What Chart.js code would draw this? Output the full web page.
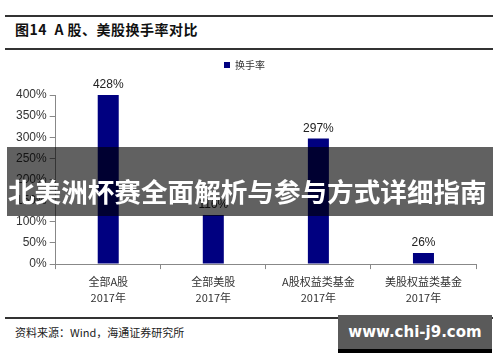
<!DOCTYPE html>
<html>
<head>
<meta charset="utf-8">
<script src="https://cdn.jsdelivr.net/npm/chart.js@4/dist/chart.umd.min.js"></script>
<style>
  body { margin: 0; background: #fff; }
  #wrap { position: relative; width: 500px; height: 362px; overflow: hidden; background: #fff; font-family: "Noto Sans CJK SC", sans-serif; }
  .rule { position: absolute; left: 5px; width: 488px; background: #333; }
  #title { position: absolute; left: 15px; top: 19px; font-size: 14px; font-weight: bold; color: #111; letter-spacing: 0.5px; }
  #source { position: absolute; left: 15px; top: 324px; font-size: 11px; color: #222; }
  #chartBox { position: absolute; left: 0; top: 52px; width: 500px; height: 259px; }
  #banner { position: absolute; left: 7px; top: 147px; width: 486px; height: 69px; background: rgba(0,0,0,0.62); color: #fff; font-size: 26.6px; font-weight: bold; line-height: 51px; padding-top: 18px; padding-left: 1px; white-space: nowrap; overflow: hidden; box-sizing: border-box; }
  #site { position: absolute; left: 338px; top: 315px; width: 154px; height: 38px; background: #5a5a5a; border-bottom: 4px solid #000; box-sizing: border-box; color: #fff; font-size: 15px; font-weight: bold; text-align: center; line-height: 34px; font-family: "DejaVu Sans", sans-serif; }
</style>
</head>
<body>
<div id="wrap">
  <div class="rule" style="top:15px;height:2px"></div>
  <div id="title">图14&nbsp; A 股、美股换手率对比</div>
  <div class="rule" style="top:48px;height:2px"></div>
  <div id="chartBox"><canvas id="turnoverChart"></canvas></div>
  <div class="rule" style="top:317px;height:2px"></div>
  <div id="source">资料来源：Wind，海通证券研究所</div>
  <div id="banner">北美洲杯赛全面解析与参与方式详细指南</div>
  <div id="site">www.chi-j9.com</div>
</div>
<script>
var categories = [
	['全部A股', '2017年'],
	['全部美股', '2017年'],
	['A股权益类基金', '2017年'],
	['美股权益类基金', '2017年']
];
var turnover = [428, 116, 297, 26];
var seriesName = '换手率';
var yTicks = [0, 50, 100, 150, 200, 250, 300, 350, 400];

// value labels above the bars
var barLabels = {
	id: 'barLabels',
	afterDatasetsDraw: function(chart) {
		var ctx = chart.ctx;
		var meta = chart.getDatasetMeta(0);
		ctx.save();
		ctx.font = '12px "Liberation Sans", Arial, sans-serif';
		ctx.fillStyle = '#222';
		ctx.textAlign = 'center';
		ctx.textBaseline = 'bottom';
		meta.data.forEach(function(bar, i) {
			var y = Math.max(bar.y, chart.chartArea.top);
			ctx.fillText(turnover[i] + '%', bar.x, y - 4);
		});
		ctx.restore();
	}
};

// extra room under the legend so the 428% label fits above the plot
var legendGap = {
	id: 'legendGap',
	afterInit: function(chart) {
		var fit = chart.legend.fit;
		chart.legend.fit = function() {
			fit.call(this);
			this.height += 15;
		};
	}
};

new Chart(document.getElementById('turnoverChart'), {
	type: 'bar',
	data: {
		labels: categories,
		datasets: [{
			label: seriesName,
			data: turnover,
			backgroundColor: '#000080',
			barPercentage: 0.4,
			categoryPercentage: 0.5
		}]
	},
	options: {
		responsive: true,
		maintainAspectRatio: false,
		animation: false,
		layout: { padding: { left: 13, right: 24, top: 4, bottom: 0 } },
		plugins: {
			legend: {
				display: true,
				labels: {
					boxWidth: 6,
					boxHeight: 6,
					padding: 4,
					color: '#333',
					font: { size: 10, family: '"Noto Sans CJK SC", serif' }
				}
			},
			tooltip: { enabled: false }
		},
		scales: {
			x: {
				grid: { display: true, drawOnChartArea: false, color: '#888', tickLength: 5 },
				border: { color: '#888' },
				ticks: {
					color: '#333',
					maxRotation: 0,
					padding: 5,
					font: { size: 11, lineHeight: 1.45, family: '"Noto Sans CJK SC", sans-serif' }
				}
			},
			y: {
				min: 0,
				max: 400,
				afterBuildTicks: function(axis) {
					axis.ticks = yTicks.map(function(v) { return { value: v }; });
				},
				grid: { drawOnChartArea: false, color: '#888', tickLength: 6 },
				border: { color: '#888' },
				ticks: {
					color: '#333',
					padding: 3,
					font: { size: 12, family: '"Liberation Sans", Arial, sans-serif' },
					callback: function(v) { return v + '%'; }
				}
			}
		}
	},
	plugins: [barLabels, legendGap]
});
</script>
</body>
</html>
